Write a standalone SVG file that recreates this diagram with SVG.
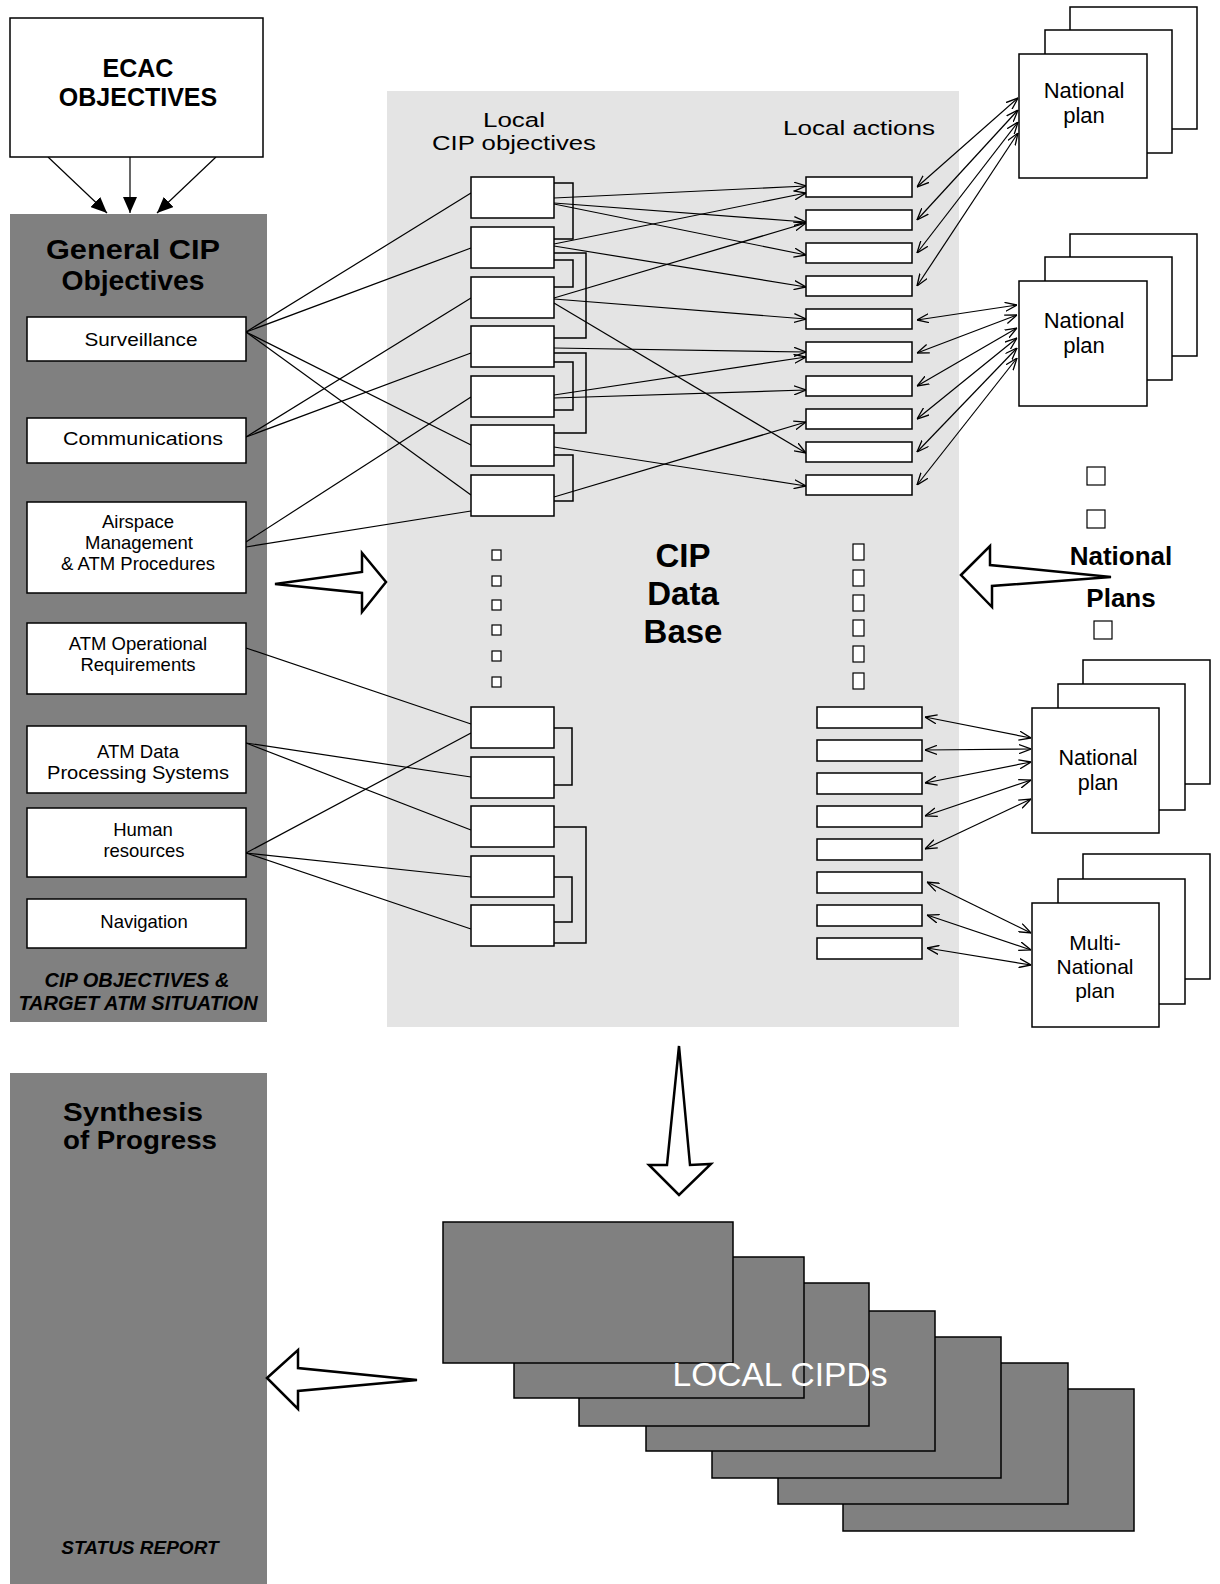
<svg xmlns="http://www.w3.org/2000/svg" width="1220" height="1584" viewBox="0 0 1220 1584">
<defs>
<style>
.t{font-family:"Liberation Sans",Arial,sans-serif;fill:#000;text-anchor:middle}
.b{font-weight:bold}
.bi{font-weight:bold;font-style:italic}
.it{font-size:18.5px}
.box{fill:#fff;stroke:#000;stroke-width:1.5}
.sq{fill:#fff;stroke:#000;stroke-width:1.2}
.ln{fill:none;stroke:#000;stroke-width:1.2}
.br{fill:none;stroke:#000;stroke-width:1.5}
.hol{fill:#fff;stroke:#000;stroke-width:2.5;stroke-linejoin:miter}
.dk{fill:#808080;stroke:#000;stroke-width:1.5}
</style>
<marker id="oa" viewBox="0 0 12 10" refX="12" refY="5" markerWidth="12" markerHeight="10" markerUnits="userSpaceOnUse" orient="auto-start-reverse">
<path d="M0,0.5 L12,5 L0,9.5" fill="none" stroke="#000" stroke-width="1.3"/>
</marker>
<marker id="fa" viewBox="0 0 16 14" refX="16" refY="7" markerWidth="16" markerHeight="14" markerUnits="userSpaceOnUse" orient="auto">
<path d="M0,0 L16,7 L0,14 z" fill="#000"/>
</marker>
</defs>
<rect width="1220" height="1584" fill="#fff"/>

<!-- background panels -->
<g id="general-cip-panel">
<rect x="10" y="214" width="257" height="808" fill="#808080"/>
<text class="t b" x="133" y="259" font-size="27" textLength="174" lengthAdjust="spacingAndGlyphs">General CIP</text>
<text class="t b" x="133" y="290" font-size="27" textLength="143" lengthAdjust="spacingAndGlyphs">Objectives</text>
<text class="t bi" x="137" y="987" font-size="20">CIP OBJECTIVES &amp;</text>
<text class="t bi" x="138" y="1010" font-size="20">TARGET ATM SITUATION</text>
</g>
<g id="cip-database-panel">
<rect x="387" y="91" width="572" height="936" fill="#e4e4e4"/>
<text class="t" x="514" y="127" font-size="20.5" textLength="62" lengthAdjust="spacingAndGlyphs">Local</text>
<text class="t" x="514" y="150" font-size="20.5" textLength="164" lengthAdjust="spacingAndGlyphs">CIP objectives</text>
<text class="t" x="859" y="135" font-size="21" textLength="152" lengthAdjust="spacingAndGlyphs">Local actions</text>
<text class="t b" x="683" y="567" font-size="33">CIP</text>
<text class="t b" x="683" y="605" font-size="33">Data</text>
<text class="t b" x="683" y="643" font-size="33">Base</text>
</g>
<g id="synthesis-panel">
<rect x="10" y="1073" width="257" height="511" fill="#808080"/>
<text class="t b" x="133" y="1121" font-size="25" textLength="140" lengthAdjust="spacingAndGlyphs">Synthesis</text>
<text class="t b" x="140" y="1149" font-size="25" textLength="154" lengthAdjust="spacingAndGlyphs">of Progress</text>
<text class="t bi" x="140" y="1554" font-size="19">STATUS REPORT</text>
</g>

<!-- connectors -->
<g id="connectors">
<line class="ln" x1="48" y1="157" x2="107" y2="213" marker-end="url(#fa)"/>
<line class="ln" x1="130" y1="157" x2="130" y2="213" marker-end="url(#fa)"/>
<line class="ln" x1="216" y1="157" x2="157" y2="213" marker-end="url(#fa)"/>

<line class="ln" x1="246" y1="332" x2="471" y2="193"/>
<line class="ln" x1="246" y1="332" x2="471" y2="248"/>
<line class="ln" x1="246" y1="332" x2="471" y2="445"/>
<line class="ln" x1="246" y1="332" x2="471" y2="495"/>
<line class="ln" x1="246" y1="437" x2="471" y2="298"/>
<line class="ln" x1="246" y1="437" x2="471" y2="353"/>
<line class="ln" x1="246" y1="542" x2="471" y2="397"/>
<line class="ln" x1="246" y1="547" x2="471" y2="511"/>
<line class="ln" x1="246" y1="648" x2="471" y2="724"/>
<line class="ln" x1="246" y1="743" x2="471" y2="777"/>
<line class="ln" x1="246" y1="743" x2="471" y2="830"/>
<line class="ln" x1="246" y1="853" x2="471" y2="733"/>
<line class="ln" x1="246" y1="853" x2="471" y2="877"/>
<line class="ln" x1="246" y1="853" x2="471" y2="929"/>

<line class="ln" x1="554" y1="198" x2="806" y2="186" marker-end="url(#oa)"/>
<line class="ln" x1="554" y1="203" x2="806" y2="222" marker-end="url(#oa)"/>
<line class="ln" x1="554" y1="204" x2="806" y2="255" marker-end="url(#oa)"/>
<line class="ln" x1="554" y1="244" x2="806" y2="193" marker-end="url(#oa)"/>
<line class="ln" x1="554" y1="246" x2="806" y2="287" marker-end="url(#oa)"/>
<line class="ln" x1="554" y1="298" x2="806" y2="223" marker-end="url(#oa)"/>
<line class="ln" x1="554" y1="299" x2="806" y2="319" marker-end="url(#oa)"/>
<line class="ln" x1="554" y1="303" x2="806" y2="453" marker-end="url(#oa)"/>
<line class="ln" x1="554" y1="348" x2="806" y2="352" marker-end="url(#oa)"/>
<line class="ln" x1="554" y1="395" x2="806" y2="357" marker-end="url(#oa)"/>
<line class="ln" x1="554" y1="398" x2="806" y2="390" marker-end="url(#oa)"/>
<line class="ln" x1="554" y1="447" x2="806" y2="486" marker-end="url(#oa)"/>
<line class="ln" x1="554" y1="497" x2="806" y2="422" marker-end="url(#oa)"/>

<polyline class="br" points="554,183 573,183 573,239 554,239"/>
<polyline class="br" points="554,253 586,253 586,338 554,338"/>
<polyline class="br" points="554,260 573,260 573,287 554,287"/>
<polyline class="br" points="554,353 586,353 586,433 554,433"/>
<polyline class="br" points="554,362 573,362 573,410 554,410"/>
<polyline class="br" points="554,455 573,455 573,501 554,501"/>
<polyline class="br" points="554,728 572,728 572,785 554,785"/>
<polyline class="br" points="554,827 586,827 586,943 554,943"/>
<polyline class="br" points="554,877 572,877 572,922 554,922"/>

<line class="ln" x1="917" y1="187" x2="1018" y2="98" marker-start="url(#oa)" marker-end="url(#oa)"/>
<line class="ln" x1="917" y1="220" x2="1018" y2="110" marker-start="url(#oa)" marker-end="url(#oa)"/>
<line class="ln" x1="917" y1="253" x2="1018" y2="122" marker-start="url(#oa)" marker-end="url(#oa)"/>
<line class="ln" x1="917" y1="286" x2="1018" y2="133" marker-start="url(#oa)" marker-end="url(#oa)"/>

<line class="ln" x1="917" y1="320" x2="1017" y2="305" marker-start="url(#oa)" marker-end="url(#oa)"/>
<line class="ln" x1="917" y1="353" x2="1017" y2="315" marker-start="url(#oa)" marker-end="url(#oa)"/>
<line class="ln" x1="917" y1="386" x2="1017" y2="328" marker-start="url(#oa)" marker-end="url(#oa)"/>
<line class="ln" x1="917" y1="419" x2="1017" y2="338" marker-start="url(#oa)" marker-end="url(#oa)"/>
<line class="ln" x1="917" y1="452" x2="1017" y2="348" marker-start="url(#oa)" marker-end="url(#oa)"/>
<line class="ln" x1="917" y1="485" x2="1017" y2="358" marker-start="url(#oa)" marker-end="url(#oa)"/>

<line class="ln" x1="925" y1="717" x2="1031" y2="738" marker-start="url(#oa)" marker-end="url(#oa)"/>
<line class="ln" x1="925" y1="750" x2="1031" y2="749" marker-start="url(#oa)" marker-end="url(#oa)"/>
<line class="ln" x1="925" y1="783" x2="1031" y2="762" marker-start="url(#oa)" marker-end="url(#oa)"/>
<line class="ln" x1="925" y1="816" x2="1031" y2="780" marker-start="url(#oa)" marker-end="url(#oa)"/>
<line class="ln" x1="925" y1="849" x2="1031" y2="799" marker-start="url(#oa)" marker-end="url(#oa)"/>

<line class="ln" x1="927" y1="882" x2="1031" y2="933" marker-start="url(#oa)" marker-end="url(#oa)"/>
<line class="ln" x1="927" y1="915" x2="1031" y2="950" marker-start="url(#oa)" marker-end="url(#oa)"/>
<line class="ln" x1="927" y1="948" x2="1031" y2="965" marker-start="url(#oa)" marker-end="url(#oa)"/>

<polygon class="hol" points="275,584 362,572 362,553 386,582 362,612 362,593"/>
<polygon class="hol" points="961,575 990,546 990,565 1111,577 992,586 992,607"/>
<polygon class="hol" points="679,1046 690,1165 711,1164 679,1195 649,1165 667,1165"/>
<polygon class="hol" points="267,1378 298,1350 298,1368 417,1380 298,1391 298,1409"/>
</g>

<!-- nodes -->
<g id="ecac-objectives">
<rect class="box" x="10" y="18" width="253" height="139"/>
<text class="t b" x="138" y="77" font-size="25">ECAC</text>
<text class="t b" x="138" y="106" font-size="25">OBJECTIVES</text>
</g>

<g id="surveillance"><rect class="box" x="27" y="317" width="219" height="44"/><text class="t it" x="141" y="346" textLength="113" lengthAdjust="spacingAndGlyphs">Surveillance</text></g>
<g id="communications"><rect class="box" x="27" y="418" width="219" height="45"/><text class="t it" x="143" y="445" textLength="160" lengthAdjust="spacingAndGlyphs">Communications</text></g>
<g id="airspace"><rect class="box" x="27" y="502" width="219" height="91"/>
<text class="t it" x="138" y="528">Airspace</text>
<text class="t it" x="139" y="549">Management</text>
<text class="t it" x="138" y="570">&amp; ATM Procedures</text></g>
<g id="atm-operational"><rect class="box" x="27" y="623" width="219" height="71"/>
<text class="t it" x="138" y="650">ATM Operational</text>
<text class="t it" x="138" y="671">Requirements</text></g>
<g id="atm-data"><rect class="box" x="27" y="726" width="219" height="67"/>
<text class="t it" x="138" y="758">ATM Data</text>
<text class="t it" x="138" y="779" textLength="182" lengthAdjust="spacingAndGlyphs">Processing Systems</text></g>
<g id="human-resources"><rect class="box" x="27" y="808" width="219" height="69"/>
<text class="t it" x="143" y="836">Human</text>
<text class="t it" x="144" y="857">resources</text></g>
<g id="navigation"><rect class="box" x="27" y="899" width="219" height="49"/>
<text class="t it" x="144" y="928">Navigation</text></g>

<g id="local-cip-objectives">
<rect class="box" x="471" y="177" width="83" height="41"/>
<rect class="box" x="471" y="227" width="83" height="41"/>
<rect class="box" x="471" y="277" width="83" height="41"/>
<rect class="box" x="471" y="326" width="83" height="41"/>
<rect class="box" x="471" y="376" width="83" height="41"/>
<rect class="box" x="471" y="425" width="83" height="41"/>
<rect class="box" x="471" y="475" width="83" height="41"/>
<rect class="sq" x="492" y="550" width="9" height="10"/>
<rect class="sq" x="492" y="576" width="9" height="10"/>
<rect class="sq" x="492" y="600" width="9" height="10"/>
<rect class="sq" x="492" y="625" width="9" height="10"/>
<rect class="sq" x="492" y="651" width="9" height="10"/>
<rect class="sq" x="492" y="677" width="9" height="10"/>
<rect class="box" x="471" y="707" width="83" height="41"/>
<rect class="box" x="471" y="757" width="83" height="41"/>
<rect class="box" x="471" y="806" width="83" height="41"/>
<rect class="box" x="471" y="856" width="83" height="41"/>
<rect class="box" x="471" y="905" width="83" height="41"/>
</g>

<g id="local-actions">
<rect class="box" x="806" y="177" width="106" height="20"/>
<rect class="box" x="806" y="210" width="106" height="20"/>
<rect class="box" x="806" y="243" width="106" height="20"/>
<rect class="box" x="806" y="276" width="106" height="20"/>
<rect class="box" x="806" y="309" width="106" height="20"/>
<rect class="box" x="806" y="342" width="106" height="20"/>
<rect class="box" x="806" y="376" width="106" height="20"/>
<rect class="box" x="806" y="409" width="106" height="20"/>
<rect class="box" x="806" y="442" width="106" height="20"/>
<rect class="box" x="806" y="475" width="106" height="20"/>
<rect class="sq" x="853" y="544" width="11" height="16"/>
<rect class="sq" x="853" y="570" width="11" height="16"/>
<rect class="sq" x="853" y="595" width="11" height="16"/>
<rect class="sq" x="853" y="620" width="11" height="16"/>
<rect class="sq" x="853" y="646" width="11" height="16"/>
<rect class="sq" x="853" y="673" width="11" height="16"/>
<rect class="box" x="817" y="707" width="105" height="21"/>
<rect class="box" x="817" y="740" width="105" height="21"/>
<rect class="box" x="817" y="773" width="105" height="21"/>
<rect class="box" x="817" y="806" width="105" height="21"/>
<rect class="box" x="817" y="839" width="105" height="21"/>
<rect class="box" x="817" y="872" width="105" height="21"/>
<rect class="box" x="817" y="905" width="105" height="21"/>
<rect class="box" x="817" y="938" width="105" height="21"/>
</g>

<g id="national-plan-1">
<rect class="box" x="1070" y="7" width="127" height="122"/>
<rect class="box" x="1045" y="30" width="127" height="123"/>
<rect class="box" x="1019" y="54" width="128" height="124"/>
<text class="t" x="1084" y="98" font-size="22">National</text>
<text class="t" x="1084" y="123" font-size="22">plan</text>
</g>
<g id="national-plan-2">
<rect class="box" x="1070" y="234" width="127" height="122"/>
<rect class="box" x="1045" y="257" width="127" height="123"/>
<rect class="box" x="1019" y="281" width="128" height="125"/>
<text class="t" x="1084" y="328" font-size="22">National</text>
<text class="t" x="1084" y="353" font-size="22">plan</text>
</g>
<g id="national-plans-label">
<rect class="sq" x="1087" y="467" width="18" height="18"/>
<rect class="sq" x="1087" y="510" width="18" height="18"/>
<text class="t b" x="1121" y="565" font-size="26">National</text>
<text class="t b" x="1121" y="607" font-size="26">Plans</text>
<rect class="sq" x="1094" y="621" width="18" height="18"/>
</g>
<g id="national-plan-3">
<rect class="box" x="1083" y="660" width="127" height="124"/>
<rect class="box" x="1058" y="684" width="127" height="126"/>
<rect class="box" x="1032" y="708" width="127" height="125"/>
<text class="t" x="1098" y="765" font-size="21.5">National</text>
<text class="t" x="1098" y="790" font-size="21.5">plan</text>
</g>
<g id="multi-national-plan">
<rect class="box" x="1083" y="854" width="127" height="125"/>
<rect class="box" x="1058" y="879" width="127" height="125"/>
<rect class="box" x="1032" y="903" width="127" height="124"/>
<text class="t" x="1095" y="950" font-size="21">Multi-</text>
<text class="t" x="1095" y="974" font-size="21">National</text>
<text class="t" x="1095" y="998" font-size="21">plan</text>
</g>

<g id="local-cipds">
<rect class="dk" x="843" y="1389" width="291" height="142"/>
<rect class="dk" x="778" y="1363" width="290" height="141"/>
<rect class="dk" x="712" y="1337" width="289" height="141"/>
<rect class="dk" x="646" y="1311" width="289" height="140"/>
<rect class="dk" x="579" y="1283" width="290" height="143"/>
<rect class="dk" x="514" y="1257" width="290" height="141"/>
<rect class="dk" x="443" y="1222" width="290" height="141"/>
<text class="t" x="780" y="1386" font-size="33" textLength="215" lengthAdjust="spacingAndGlyphs" style="fill:#fff">LOCAL CIPDs</text>
</g>
</svg>
